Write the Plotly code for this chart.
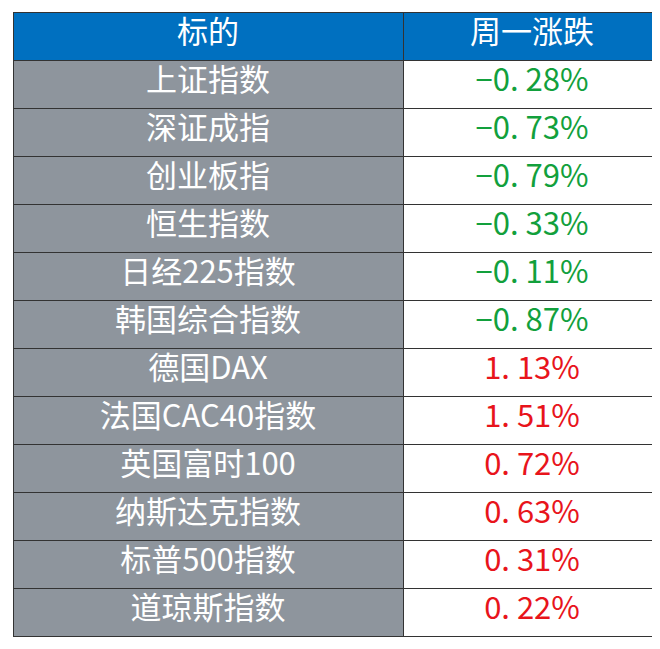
import plotly.graph_objects as go

headers = ["标的", "周一涨跌"]
names = ["上证指数", "深证成指", "创业板指", "恒生指数", "日经225指数", "韩国综合指数",
         "德国DAX", "法国CAC40指数", "英国富时100", "纳斯达克指数", "标普500指数", "道琼斯指数"]
changes = [-0.28, -0.73, -0.79, -0.33, -0.11, -0.87, 1.13, 1.51, 0.72, 0.63, 0.31, 0.22]

labels = [("−" if v < 0 else "") + f"{abs(v):.2f}%".replace(".", ". ") for v in changes]
colors = ["#12A03C" if v < 0 else "#E8141B" for v in changes]

W, H = 660, 649
fig = go.Figure(go.Table(
    columnwidth=[390, 258],
    header=dict(values=headers, fill_color="#0070C0",
                line=dict(color="#333333", width=1),
                font=dict(color="white", size=31, family="Noto Sans CJK SC"), height=48, align="center"),
    cells=dict(values=[names, labels],
               fill_color=[["#8E959D"] * len(names), ["white"] * len(names)],
               line=dict(color="#333333", width=1),
               font=dict(color=[["white"] * len(names), colors], size=31, family="Noto Sans CJK SC"),
               height=48, align="center"),
    domain=dict(x=[5 / W, 653 / W], y=[0, 1 - 4 / H]),
))
fig.update_layout(width=W, height=H, margin=dict(l=0, r=0, t=0, b=0), paper_bgcolor="white")
fig.write_html("out.html")
